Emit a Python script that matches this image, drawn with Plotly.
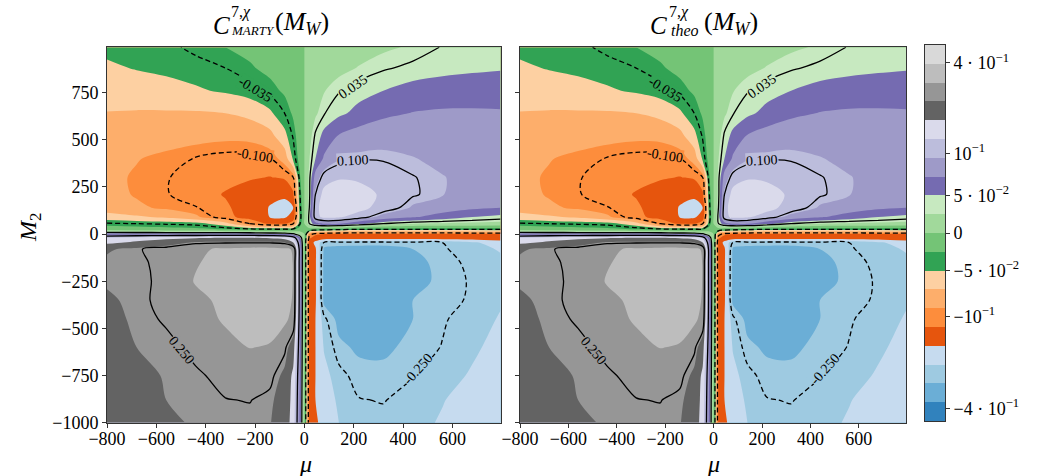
import numpy as np
import plotly.graph_objects as go

# Grid of the chargino Wilson coefficient C7 at M_W over (mu, M2)
mu_values = [-800, -680, -560, -440, -320, -220, -140, -80, -45, -20, 0,
             20, 45, 80, 140, 220, 320, 440, 560, 680, 795]
m2_values = [-1000, -880, -750, -600, -450, -350, -250, -150, -80, -45, -20,
             0, 25, 55, 90, 140, 210, 300, 400, 520, 640, 760, 880, 990]

# rows with M2 < 0 (ascending M2), one value per mu column
c7_rows_negative_m2 = [
    [0.185, 0.2, 0.222, 0.236, 0.243, 0.243, 0.233, 0.205, 0.15, 0.068, 0.0,
     -0.125, -0.15, -0.17, -0.21, -0.235, -0.24, -0.228, -0.205, -0.185, -0.17],
    [0.19, 0.205, 0.23, 0.24, 0.249, 0.251, 0.24, 0.21, 0.155, 0.07, 0.0,
     -0.125, -0.155, -0.18, -0.222, -0.248, -0.252, -0.235, -0.213, -0.19, -0.175],
    [0.195, 0.215, 0.235, 0.245, 0.26, 0.275, 0.262, 0.22, 0.16, 0.075, 0.0,
     -0.125, -0.155, -0.195, -0.237, -0.265, -0.27, -0.252, -0.232, -0.205, -0.185],
    [0.205, 0.23, 0.24, 0.26, 0.292, 0.312, 0.305, 0.26, 0.2, 0.08, 0.0,
     -0.125, -0.155, -0.215, -0.27, -0.29, -0.29, -0.27, -0.248, -0.22, -0.195],
    [0.22, 0.237, 0.255, 0.285, 0.318, 0.34, 0.34, 0.325, 0.29, 0.085, 0.0,
     -0.125, -0.155, -0.24, -0.3, -0.31, -0.305, -0.28, -0.255, -0.23, -0.207],
    [0.225, 0.24, 0.262, 0.295, 0.325, 0.342, 0.347, 0.335, 0.305, 0.09, 0.0,
     -0.125, -0.15, -0.3, -0.31, -0.315, -0.305, -0.28, -0.262, -0.245, -0.215],
    [0.235, 0.238, 0.262, 0.315, 0.34, 0.35, 0.35, 0.338, 0.308, 0.09, 0.0,
     -0.125, -0.15, -0.3, -0.32, -0.325, -0.32, -0.3, -0.27, -0.245, -0.222],
    [0.24, 0.24, 0.265, 0.305, 0.335, 0.345, 0.345, 0.337, 0.308, 0.09, 0.0,
     -0.125, -0.15, -0.3, -0.315, -0.32, -0.315, -0.3, -0.265, -0.24, -0.222],
    [0.225, 0.245, 0.27, 0.3, 0.32, 0.33, 0.33, 0.322, 0.305, 0.09, 0.0,
     -0.125, -0.15, -0.29, -0.3, -0.3, -0.3, -0.28, -0.255, -0.23, -0.206],
    [0.16, 0.18, 0.2, 0.24, 0.245, 0.245, 0.245, 0.235, 0.17, 0.08, 0.0,
     -0.13, -0.17, -0.255, -0.262, -0.265, -0.265, -0.26, -0.25, -0.22, -0.185],
    [0.13, 0.15, 0.16, 0.165, 0.17, 0.17, 0.165, 0.15, 0.12, 0.06, 0.0,
     -0.11, -0.13, -0.13, -0.13, -0.13, -0.13, -0.13, -0.13, -0.13, -0.125],
]

# rows with M2 >= 0 (ascending M2)
c7_rows_positive_m2 = [
    [0.06, 0.06, 0.06, 0.06, 0.06, 0.06, 0.055, 0.05, 0.04, 0.02, 0.0,
     -0.09, -0.11, -0.115, -0.12, -0.12, -0.12, -0.12, -0.12, -0.118, -0.115],
    [-0.012, -0.015, -0.018, -0.02, -0.025, -0.03, -0.033, -0.033, -0.03, -0.015, 0.0,
     -0.01, -0.02, -0.025, -0.03, -0.035, -0.035, -0.035, -0.035, -0.035, -0.035],
    [-0.033, -0.035, -0.037, -0.04, -0.06, -0.1, -0.12, -0.12, -0.1, -0.04, 0.0,
     0.035, 0.06, 0.07, 0.07, 0.055, 0.035, 0.025, 0.022, 0.02, 0.018],
    [-0.06, -0.065, -0.072, -0.085, -0.11, -0.125, -0.156, -0.162, -0.14, -0.05, 0.0,
     0.04, 0.115, 0.135, 0.13, 0.11, 0.085, 0.07, 0.06, 0.05, 0.043],
    [-0.078, -0.085, -0.092, -0.099, -0.112, -0.13, -0.158, -0.168, -0.155, -0.045, 0.0,
     0.035, 0.115, 0.145, 0.15, 0.14, 0.112, 0.09, 0.08, 0.073, 0.068],
    [-0.082, -0.09, -0.099, -0.107, -0.117, -0.13, -0.145, -0.15, -0.12, -0.04, 0.0,
     0.03, 0.1, 0.14, 0.15, 0.143, 0.12, 0.102, 0.093, 0.085, 0.078],
    [-0.083, -0.091, -0.099, -0.106, -0.11, -0.113, -0.116, -0.112, -0.1, -0.03, 0.0,
     0.03, 0.08, 0.11, 0.122, 0.12, 0.112, 0.101, 0.093, 0.087, 0.081],
    [-0.08, -0.087, -0.094, -0.101, -0.106, -0.106, -0.101, -0.08, -0.045, -0.018, 0.0,
     0.024, 0.05, 0.072, 0.09, 0.098, 0.098, 0.093, 0.088, 0.083, 0.078],
    [-0.074, -0.077, -0.079, -0.082, -0.084, -0.083, -0.075, -0.055, -0.033, -0.014, 0.0,
     0.017, 0.038, 0.055, 0.07, 0.08, 0.085, 0.085, 0.082, 0.078, 0.074],
    [-0.069, -0.07, -0.07, -0.07, -0.068, -0.063, -0.053, -0.035, -0.022, -0.01, 0.0,
     0.01, 0.022, 0.034, 0.045, 0.055, 0.064, 0.069, 0.071, 0.071, 0.07],
    [-0.058, -0.057, -0.055, -0.052, -0.047, -0.04, -0.031, -0.022, -0.015, -0.007, 0.0,
     0.006, 0.015, 0.024, 0.034, 0.042, 0.05, 0.056, 0.059, 0.06, 0.061],
    [-0.052, -0.049, -0.046, -0.041, -0.035, -0.027, -0.02, -0.015, -0.011, -0.005, 0.0,
     0.003, 0.008, 0.013, 0.019, 0.026, 0.033, 0.039, 0.043, 0.046, 0.048],
    [-0.046, -0.043, -0.039, -0.031, -0.025, -0.02, -0.015, -0.011, -0.008, -0.004, 0.0,
     0.002, 0.005, 0.008, 0.012, 0.017, 0.022, 0.027, 0.036, 0.041, 0.046],
]

# filled-contour level edges and the tab20c band colours (lowest band first)
level_edges = [-0.46, -0.37, -0.28, -0.21, -0.155, -0.115, -0.088, -0.068, -0.05, -0.025,
               0.0, 0.025, 0.05, 0.068, 0.092, 0.125, 0.17, 0.23, 0.31, 0.395, 0.49]
band_colors = ['#3182bd', '#6baed6', '#9ecae1', '#c6dbef',
               '#e6550d', '#fd8d3c', '#fdae6b', '#fdd0a2',
               '#31a354', '#74c476', '#a1d99b', '#c7e9c0',
               '#756bb1', '#9e9ac8', '#bcbddc', '#dadaeb',
               '#636363', '#969696', '#bdbdbd', '#d9d9d9']

line_levels = [-0.25, -0.1, -0.035, 0.035, 0.1, 0.25]
cbar_tick_values = [-0.4, -0.1, -0.05, 0.0, 0.05, 0.1, 0.4]
cbar_tick_text = ['\u22124 \u00b7 10<sup>\u22121</sup>', '\u221210<sup>\u22121</sup>',
                  '\u22125 \u00b7 10<sup>\u22122</sup>', '0', '5 \u00b7 10<sup>\u22122</sup>',
                  '10<sup>\u22121</sup>', '4 \u00b7 10<sup>\u22121</sup>']

# inline contour labels: (text, mu, M2, angle, background)
line_labels = [
    ('-0.035', -199, 765, 31, '#31a354'),
    ('0.035', 198, 783, -35, '#c7e9c0'),
    ('-0.100', -199, 418, 9, '#fd8d3c'),
    ('0.100', 199, 391, -3, '#bcbddc'),
    ('0.250', -496, -616, 50, '#969696'),
    ('-0.250', 459, -717, -48, '#9ecae1'),
]

FONT = 'Liberation Serif'
W, H = 1038, 476

z = np.array(c7_rows_negative_m2 + c7_rows_positive_m2, dtype=float)
edge_index = np.arange(len(level_edges), dtype=float)
band_z = np.interp(z, level_edges, edge_index)
n_bands = len(band_colors)
band_scale = [[k / (n_bands - 1), c] for k, c in enumerate(band_colors)]

fig = go.Figure()

panels = [('x', 'y'), ('x2', 'y2')]
for xa, ya in panels:
    fig.add_trace(go.Contour(
        x=mu_values, y=m2_values, z=band_z, xaxis=xa, yaxis=ya,
        autocontour=False,
        contours=dict(start=1, end=n_bands - 1, size=1, coloring='fill', showlines=False),
        colorscale=band_scale, showscale=False,
        line=dict(width=0, smoothing=0.9), hoverinfo='skip'))
    for lv in line_levels:
        fig.add_trace(go.Contour(
            x=mu_values, y=m2_values, z=z, xaxis=xa, yaxis=ya,
            autocontour=False,
            contours=dict(start=lv, end=lv, size=1, coloring='none', showlabels=False),
            line=dict(color='black', width=1.3, smoothing=0.9,
                      dash='5px,3px' if lv < 0 else 'solid'),
            showscale=False, hoverinfo='skip'))

# colour bar drawn as a one-column heatmap in its own axes
fig.add_trace(go.Heatmap(
    x=[0], y=np.arange(n_bands) + 0.5, z=[[k] for k in range(n_bands)],
    colorscale=band_scale, zmin=0, zmax=n_bands - 1, showscale=False,
    xaxis='x3', yaxis='y3', hoverinfo='skip'))

cbar_tick_pos = list(np.interp(cbar_tick_values, level_edges, edge_index))

ydom = [1 - 422.7 / H, 1 - 47.3 / H]
axis_common = dict(showline=True, mirror=True, linecolor='#333333', linewidth=1,
                   ticks='outside', ticklen=4, tickcolor='#333333', showgrid=False,
                   zeroline=False, automargin=False,
                   tickfont=dict(family=FONT, size=18, color='black'))
mu_ticks = [-800, -600, -400, -200, 0, 200, 400, 600]
m2_ticks = [-1000, -750, -500, -250, 0, 250, 500, 750]

fig.update_layout(
    template='none',
    width=W, height=H, margin=dict(l=0, r=0, t=0, b=0, autoexpand=False),
    paper_bgcolor='white', plot_bgcolor='white', showlegend=False,
    font=dict(family=FONT, color='black'),
    xaxis=dict(domain=[107 / W, 500.5 / W], range=[-800, 795], anchor='y',
               tickvals=mu_ticks, ticklabelstandoff=-4, **axis_common),
    yaxis=dict(domain=ydom, range=[-1000, 990], anchor='x',
               tickvals=m2_ticks, **axis_common),
    xaxis2=dict(domain=[520 / W, 906 / W], range=[-800, 795], anchor='y2',
                tickvals=mu_ticks, ticklabelstandoff=-4, **axis_common),
    yaxis2=dict(domain=ydom, range=[-1000, 990], anchor='x2',
                tickvals=m2_ticks, showticklabels=False, **axis_common),
    xaxis3=dict(domain=[925 / W, 945 / W], range=[-0.5, 0.5], anchor='y3',
                showline=True, mirror=True, linecolor='#333333', linewidth=1,
                showticklabels=False, ticks='', showgrid=False, zeroline=False,
                automargin=False),
    yaxis3=dict(domain=[1 - 421 / H, 1 - 45 / H], range=[0, n_bands], anchor='x3',
                side='right', tickvals=cbar_tick_pos, ticktext=cbar_tick_text,
                **axis_common),
)

ann = []
# titles assembled from pieces: C, superscript, subscript, (M_W)
for c_left, sup_left, sub_left, sub_text, sub_size, arg_left in [
        (211, 229, 229, 'MARTY', 13, 273), (648, 667, 669, 'theo', 16, 702)]:
    ann.append(dict(text='<i>C</i>', x=c_left / W, y=1 - 25 / H, size=25))
    ann.append(dict(text='7,<i>\u03c7</i>', x=sup_left / W, y=1 - 12 / H, size=16))
    ann.append(dict(text='<i>%s</i>' % sub_text, x=sub_left / W, y=1 - 30 / H, size=sub_size))
    ann.append(dict(text='(<i>M</i><sub><i>W</i></sub>)', x=arg_left / W, y=1 - 23 / H, size=26))
annotations = [dict(text=a['text'], x=a['x'], y=a['y'], xref='paper', yref='paper',
                    xanchor='left', yanchor='middle', showarrow=False,
                    font=dict(family=FONT, size=a['size'], color='black')) for a in ann]

for cx in [305, 713]:
    annotations.append(dict(text='<i>\u03bc</i>', x=cx / W, y=1 - 464 / H, xref='paper',
                            yref='paper', showarrow=False, xanchor='center', yanchor='middle',
                            font=dict(family=FONT, size=24, color='black')))
annotations.append(dict(text='<i>M</i><sub>2</sub>', x=30 / W, y=1 - 228 / H, xref='paper',
                        yref='paper', showarrow=False, textangle=-90,
                        xanchor='center', yanchor='middle',
                        font=dict(family=FONT, size=24, color='black')))

for xa, ya in [('x', 'y'), ('x2', 'y2')]:
    for text, lx, ly, ang, bg in line_labels:
        annotations.append(dict(text=text, x=lx, y=ly, xref=xa, yref=ya, showarrow=False,
                                textangle=ang, bgcolor=bg, borderpad=0,
                                font=dict(family=FONT, size=14, color='black')))

fig.update_layout(annotations=annotations)
fig.write_html('out.html')
